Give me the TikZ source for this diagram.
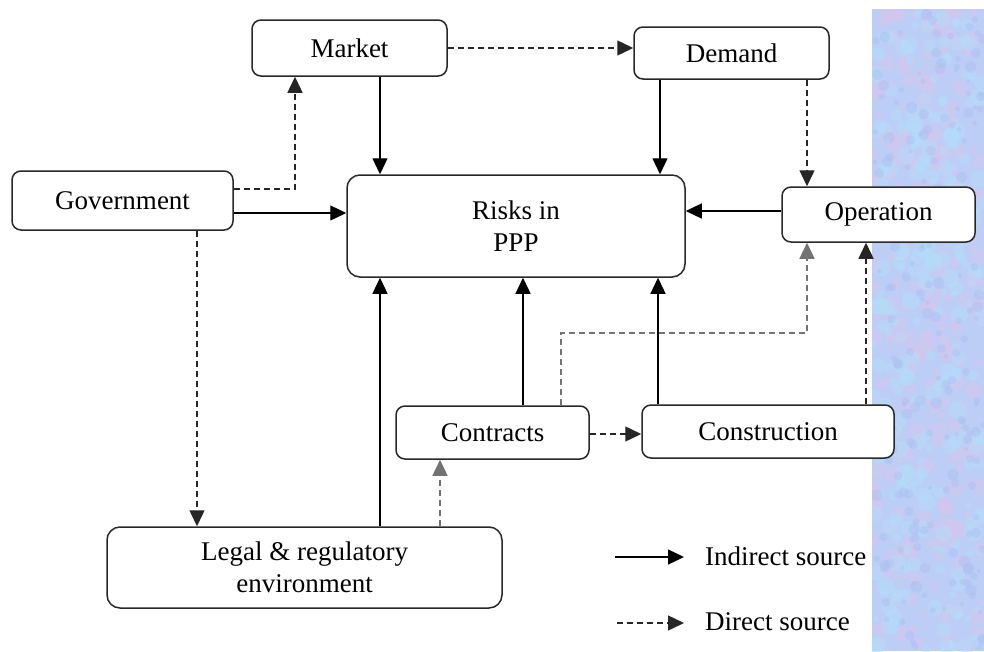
\documentclass[tikz,border=0pt]{standalone}
\usepackage{fontspec}
\setmainfont{Liberation Serif}
\usetikzlibrary{arrows.meta}
\definecolor{boxline}{RGB}{40,40,40}
\definecolor{panelbase}{RGB}{188,206,246}
\definecolor{panelpink}{RGB}{218,196,238}
\definecolor{panelcyan}{RGB}{178,224,250}
\definecolor{panelblue}{RGB}{170,190,240}
\tikzset{
  box/.style={draw=boxline, line width=1.5pt, rounded corners=9pt, fill=white, align=center,
    font=\fontsize{27}{32}\selectfont, inner sep=0pt},
  ind/.style={draw=black, line width=1.3pt, -{Triangle[length=16pt,width=15pt]}},
  dir/.style={draw=black!85, line width=1.4pt, dash pattern=on 6pt off 4pt, -{Triangle[length=16pt,width=15pt]}},
  dirgray/.style={dir, draw=black!55},
  legtext/.style={anchor=west, font=\fontsize{27}{30}\selectfont, inner sep=0pt}
}
\begin{document}
\begin{tikzpicture}[x=1pt,y=-1pt]
\useasboundingbox (0,0) rectangle (984,651);
% textured panel
\begin{scope}
\clip (872,9) rectangle (984,651);
\fill[panelbase] (872,9) rectangle (984,651);
\pgfmathsetseed{11}
\foreach \i in {1,...,260}{
  \pgfmathsetmacro\xx{872+112*rnd}
  \pgfmathsetmacro\yy{9+642*rnd}
  \pgfmathsetmacro\rr{3+6*rnd}
  \fill[panelpink, opacity=0.4] (\xx,\yy) circle[radius=\rr pt];
}
\foreach \i in {1,...,260}{
  \pgfmathsetmacro\xx{872+112*rnd}
  \pgfmathsetmacro\yy{9+642*rnd}
  \pgfmathsetmacro\rr{3+6*rnd}
  \fill[panelcyan, opacity=0.4] (\xx,\yy) circle[radius=\rr pt];
}
\foreach \i in {1,...,200}{
  \pgfmathsetmacro\xx{872+112*rnd}
  \pgfmathsetmacro\yy{9+642*rnd}
  \pgfmathsetmacro\rr{2+4*rnd}
  \fill[panelblue, opacity=0.4] (\xx,\yy) circle[radius=\rr pt];
}
\end{scope}
% boxes
\node[box, minimum width=195pt, minimum height=56pt] (market) at (349.5,48) {Market};
\node[box, minimum width=195pt, minimum height=52pt] (demand) at (731.5,53) {Demand};
\node[box, minimum width=221pt, minimum height=59pt] (gov) at (122.5,200.5) {Government};
\node[box, minimum width=338pt, minimum height=102pt, rounded corners=13pt] (risks) at (516,226) {Risks in\\PPP};
\node[box, minimum width=193pt, minimum height=55pt] (operation) at (878.5,214.5) {Operation};
\node[box, minimum width=193pt, minimum height=53pt] (contracts) at (492.5,432.5) {Contracts};
\node[box, minimum width=252pt, minimum height=53pt] (construction) at (768,431.5) {Construction};
\node[box, minimum width=395pt, minimum height=81pt, rounded corners=13pt] (legal) at (304.5,567.5) {Legal \& regulatory\\environment};
% connectors
\draw[ind] (market.south -| 380,0) -- (risks.north -| 380,0);
\draw[dir] (gov.east |- 0,189) -| (market.south -| 295,0);
\draw[ind] (gov.east |- 0,213) -- (risks.west |- 0,213);
\draw[dir] (gov.south -| 197,0) -- (legal.north -| 197,0);
\draw[dir] (market.east) -- (demand.west |- market.east);
\draw[ind] (demand.south -| 660,0) -- (risks.north -| 660,0);
\draw[dir] (demand.south -| 807,0) -- (operation.north -| 807,0);
\draw[ind] (operation.west |- 0,211) -- (risks.east |- 0,211);
\draw[ind] (legal.north -| 380,0) -- (risks.south -| 380,0);
\draw[dirgray] (legal.north -| 440,0) -- (contracts.south -| 440,0);
\draw[ind] (contracts.north -| 523,0) -- (risks.south -| 523,0);
\draw[ind] (construction.north -| 658,0) -- (risks.south -| 658,0);
\draw[dirgray] (contracts.north -| 561,0) |- (807,333) -- (operation.south -| 807,0);
\draw[dir] (construction.north -| 866,0) -- (operation.south -| 866,0);
\draw[dir] (contracts.east |- 0,434) -- (construction.west |- 0,434);
% legend
\coordinate (l1a) at (615,557);
\coordinate (l1b) at (684,557);
\coordinate (l2a) at (617,623);
\coordinate (l2b) at (684,623);
\draw[ind] (l1a) -- (l1b);
\draw[dir] (l2a) -- (l2b);
\node[legtext] (lt1) at (705,556) {Indirect source};
\node[legtext] (lt2) at (705,622) {Direct source};
\end{tikzpicture}
\end{document}
